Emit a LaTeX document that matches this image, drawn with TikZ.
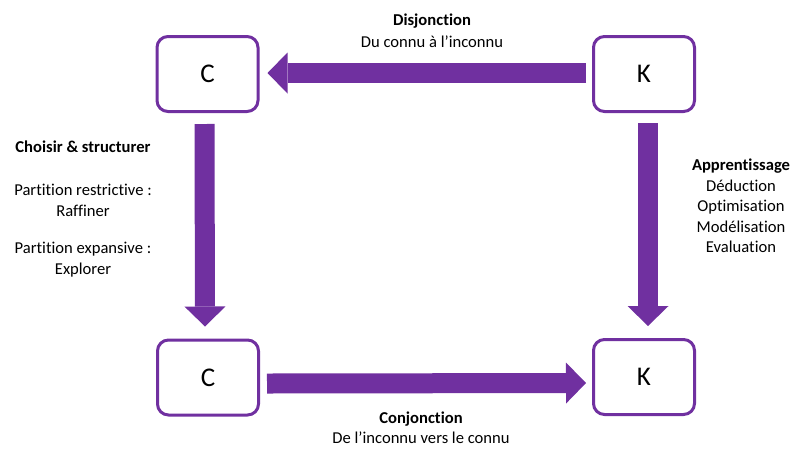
\documentclass[tikz,border=0pt]{standalone}
\usepackage{fontspec}
\setmainfont{Carlito}[Ligatures=NoCommon]
\usetikzlibrary{arrows.meta}
\definecolor{vio}{HTML}{7030A0}
\tikzset{
  box/.style={draw=vio, line width=3pt, rounded corners=11pt, fill=white,
    minimum width=101pt, minimum height=75pt, inner sep=0pt,
    font=\fontsize{27}{30}\selectfont},
  blk/.style={draw=vio, line width=20pt,
    -{Triangle[width=41pt,length=20pt,line width=0pt]}},
  lbl/.style={align=center, font=\fontsize{16.6}{21}\selectfont, inner sep=0pt},
}
\begin{document}
\begin{tikzpicture}[x=1pt,y=-1pt]
\useasboundingbox (0,0) rectangle (792,448);
\node[box] (c1) at (207.5,74) {C};
\node[box] (k1) at (644,74) {K};
\node[box] (c2) at (208,377.5) {C};
\node[box] (k2) at (644,377) {K};
% arrows
\draw[blk] ([xshift=-6pt,yshift=1pt]k1.west) -- ([xshift=8pt,yshift=1pt]c1.east);
\draw[blk] ([xshift=-3pt,yshift=-11pt]c1.south) -- ([xshift=-3pt,yshift=12pt]c2.north);
\draw[blk] ([xshift=4pt,yshift=-10pt]k1.south) -- ([xshift=4pt,yshift=12pt]k2.north);
\draw[blk] ([xshift=7pt,yshift=-6pt]c2.east) -- ([xshift=-6pt,yshift=-6pt]k2.west);
% labels
\node[lbl, font=\fontsize{16.6}{22}\selectfont] (t1) at (432,31) {\textbf{Disjonction}\\Du connu à l’inconnu};
\node[lbl] (l1) at (83,147) {\textbf{Choisir \& structurer}};
\node[lbl] (l2) at (83,200) {Partition restrictive :\\Raffiner};
\node[lbl] (l3) at (83,260) {Partition expansive :\\Explorer};
\node[lbl, font=\fontsize{16.6}{20.5}\selectfont] (r1) at (741,206) {\textbf{Apprentissage}\\Déduction\\Optimisation\\Modélisation\\Evaluation};
\node[lbl, font=\fontsize{16.6}{20}\selectfont] (b1) at (421,428) {\textbf{Conjonction}\\De l’inconnu vers le connu};
\end{tikzpicture}
\end{document}
